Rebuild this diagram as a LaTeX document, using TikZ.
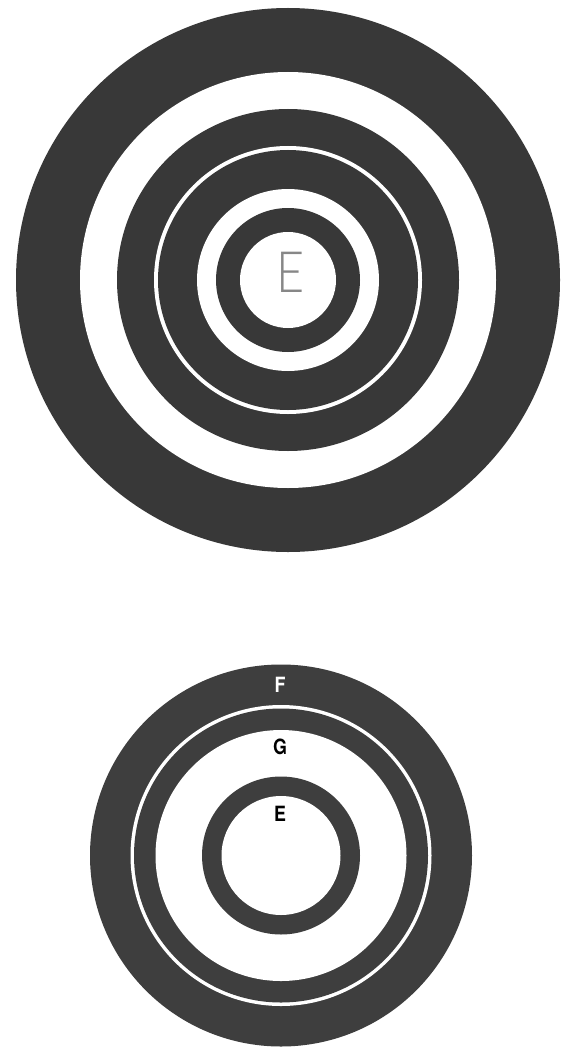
\documentclass[tikz,border=0pt]{standalone}
\usepackage{fontspec}
\newfontfamily\thinfont{Lato Light}
\newfontfamily\condfont[FakeStretch=0.85]{TeX Gyre Heros}
\definecolor{ringdark}{RGB}{56,56,56}
\definecolor{ringdarkb}{RGB}{62,62,62}
\definecolor{egray}{RGB}{135,135,135}
\tikzset{
  darkfill/.style={fill=ringdark},
  darkfillb/.style={fill=ringdarkb},
  whitefill/.style={fill=white},
  biglabel/.style={inner sep=0pt, anchor=center, text=egray, font=\thinfont\fontsize{57}{57}\selectfont},
  smalllabel/.style={inner sep=0pt, anchor=center, font=\condfont\bfseries\fontsize{21}{21}\selectfont}
}
\begin{document}
\begin{tikzpicture}[x=1pt,y=-1pt]
\useasboundingbox (0,0) rectangle (563,1051);
\fill[white] (0,0) rectangle (563,1051);
% top target
\coordinate (tc) at (288,280);
\fill[darkfill]  (tc) circle[radius=272pt];
\fill[whitefill] (tc) circle[radius=208pt];
\fill[darkfill]  (tc) circle[radius=171pt];
\fill[whitefill] (tc) circle[radius=134pt];
\fill[darkfill]  (tc) circle[radius=130pt];
\fill[whitefill] (tc) circle[radius=91pt];
\fill[darkfill]  (tc) circle[radius=72pt];
\fill[whitefill] (tc) circle[radius=48pt];
\node[biglabel, xscale=0.85] (etop) at (291,272.5) {E};
% bottom target
\coordinate (bc) at (281,855.5);
\fill[darkfillb] (bc) circle[radius=191pt];
\fill[whitefill] (bc) circle[radius=150.5pt];
\fill[darkfillb] (bc) circle[radius=147pt];
\fill[whitefill] (bc) circle[radius=125.5pt];
\fill[darkfillb] (bc) circle[radius=79pt];
\fill[whitefill] (bc) circle[radius=59.5pt];
\node[smalllabel, text=white] (f) at (280,685) {F};
\node[smalllabel, text=black] (g) at (280,747) {G};
\node[smalllabel, text=black] (e) at (280,814) {E};
\end{tikzpicture}
\end{document}
